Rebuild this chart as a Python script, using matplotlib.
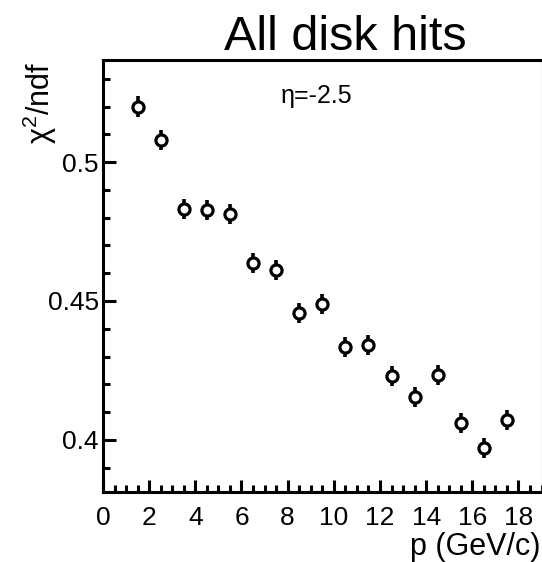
import numpy as np
import matplotlib
matplotlib.use("Agg")
import matplotlib.pyplot as plt
from matplotlib.ticker import MultipleLocator, FuncFormatter

plt.rcParams['font.family'] = ['Liberation Sans', 'DejaVu Sans']
plt.rcParams['mathtext.fontset'] = 'custom'
plt.rcParams['mathtext.rm'] = 'Liberation Sans'
plt.rcParams['mathtext.it'] = 'Liberation Sans'

# bin centres (GeV/c) and chi2/ndf values
p = [1.5, 2.5, 3.5, 4.5, 5.5, 6.5, 7.5, 8.5, 9.5,
     10.5, 11.5, 12.5, 13.5, 14.5, 15.5, 16.5, 17.5]
chi2ndf = [0.5200, 0.5080, 0.4831, 0.4828, 0.4813, 0.4637, 0.4613, 0.4457, 0.4489,
           0.4335, 0.4343, 0.4231, 0.4155, 0.4232, 0.4059, 0.3969, 0.4071]
err = [0.0038, 0.0037, 0.0036, 0.0036, 0.0036, 0.0036, 0.0036, 0.0036, 0.0036,
       0.0036, 0.0036, 0.0036, 0.0036, 0.0036, 0.0036, 0.0036, 0.0036]

title = "All disk hits"
label = "η=-2.5"
ylabel = "$\\mathrm{χ}^{2}$/ndf"
xlabel = "p (GeV/c)"

fig = plt.figure(figsize=(5.42, 5.62), dpi=100)
ax = fig.add_axes([103/542, 70/562, 1 - 103/542, (492 - 60)/562])

ax.errorbar(p, chi2ndf, yerr=err, fmt='o', color='black', ecolor='black',
            elinewidth=2.6, capsize=0, ms=8, mew=2.3, mfc='white', mec='black',
            zorder=3)

ax.set_xlim(0, 19.02)
ax.set_ylim(0.3812, 0.5368)

ax.xaxis.set_major_locator(MultipleLocator(2))
ax.xaxis.set_minor_locator(MultipleLocator(0.5))
ax.yaxis.set_major_locator(MultipleLocator(0.05))
ax.yaxis.set_minor_locator(MultipleLocator(0.01))
ax.yaxis.set_major_formatter(FuncFormatter(lambda v, pos: f"{v:g}"))

ax.tick_params(which='both', direction='in', width=2.2, labelsize=19)
ax.tick_params(axis='x', which='major', length=9, pad=10)
ax.tick_params(axis='x', which='minor', length=5)
ax.tick_params(axis='y', which='major', length=9, pad=3)
ax.tick_params(axis='y', which='minor', length=5)

for s in ['left', 'bottom', 'top']:
    ax.spines[s].set_linewidth(2.2)
ax.spines['right'].set_linewidth(1.0)
ax.spines['right'].set_color('#c8c8c8')

fig.text(316/542, 1 - 96/562, label, ha='center', va='center', fontsize=18)
fig.text(345/542, (562 - 50)/562, title, ha='center', va='baseline', fontsize=35)
fig.text(40/542, (562 - 62)/562, ylabel, rotation=90,
         ha='center', va='top', fontsize=22)
fig.text(541/542, (562 - 555)/562, xlabel, ha='right', va='baseline',
         fontsize=22)

fig.savefig("out.png", dpi=100, facecolor='white')
